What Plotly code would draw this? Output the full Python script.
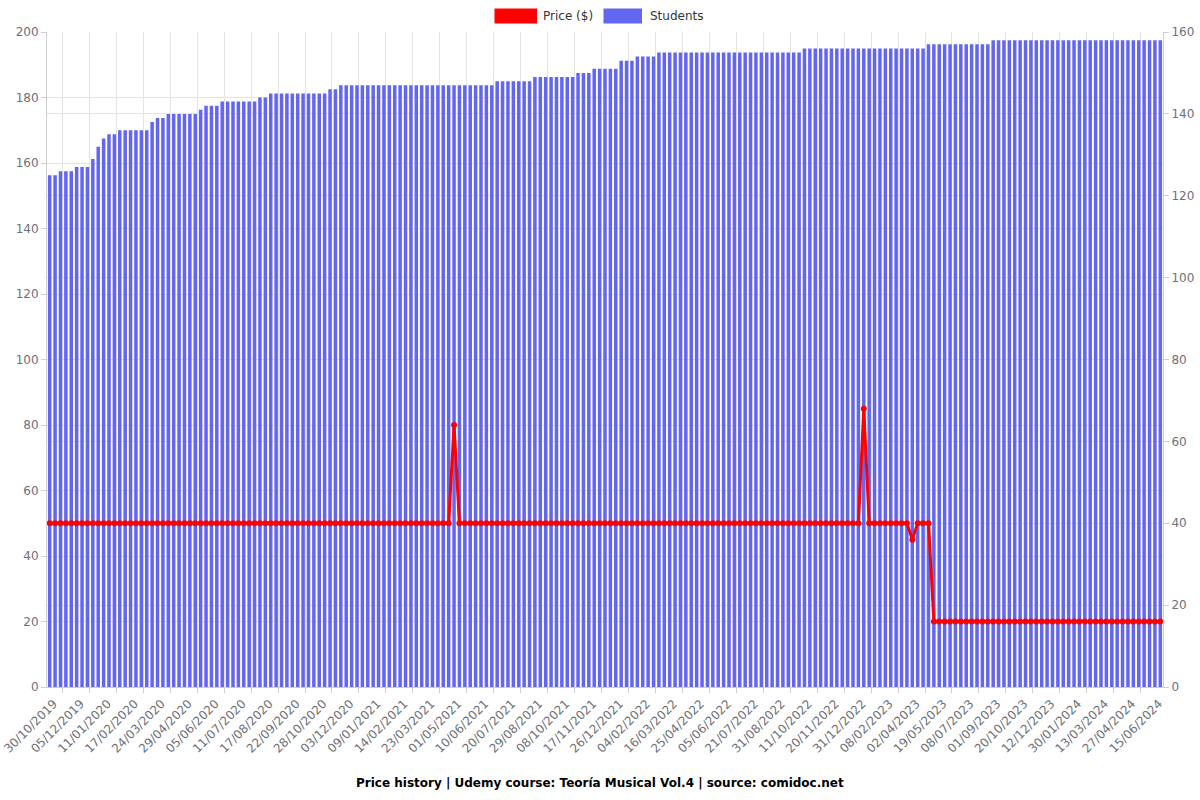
import plotly.graph_objects as go

# ---------------- data ----------------
TICK_LABELS = [
    "30/10/2019", "05/12/2019", "11/01/2020", "17/02/2020", "24/03/2020", "29/04/2020",
    "05/06/2020", "11/07/2020", "17/08/2020", "22/09/2020", "28/10/2020", "03/12/2020",
    "09/01/2021", "14/02/2021", "23/03/2021", "01/05/2021", "10/06/2021", "20/07/2021",
    "29/08/2021", "08/10/2021", "17/11/2021", "26/12/2021", "04/02/2022", "16/03/2022",
    "25/04/2022", "05/06/2022", "21/07/2022", "31/08/2022", "11/10/2022", "20/11/2022",
    "31/12/2022", "08/02/2023", "02/04/2023", "19/05/2023", "08/07/2023", "01/09/2023",
    "20/10/2023", "12/12/2023", "30/01/2024", "13/03/2024", "27/04/2024", "15/06/2024",
]
LABEL_STEP = 5  # one date label every 5 observations

# students: (value, number of consecutive observations)
STUDENT_LEVELS = [125, 126, 127, 129, 132, 134, 135, 136, 138, 139, 140, 141, 142, 143,
                  144, 145, 146, 147, 148, 149, 150, 151, 153, 154, 155, 156, 157, 158]
STUDENT_RUNS = [2, 3, 3, 1, 1, 1, 2, 6, 1, 2, 6, 1, 3, 7,
                2, 11, 2, 29, 7, 8, 3, 5, 3, 4, 27, 23, 12, 32]

# price ($): (value, number of consecutive observations)
PRICE_LEVELS = [50, 80, 50, 85, 50, 45, 50, 20]
PRICE_RUNS = [75, 1, 75, 1, 8, 1, 3, 43]

students = [v for v, n in zip(STUDENT_LEVELS, STUDENT_RUNS) for _ in range(n)]
prices = [v for v, n in zip(PRICE_LEVELS, PRICE_RUNS) for _ in range(n)]
N = len(students)
idx = list(range(N))
label_pos = [i * LABEL_STEP for i in range(len(TICK_LABELS))]

# ---------------- layout helpers ----------------
W, H = 1200, 800
ML, MR, MT, MB = 47, 37, 32, 113
PW, PH = W - ML - MR, H - MT - MB


def pxx(px):
    return (px - ML) / PW


def pxy(py):
    return (H - MB - py) / PH


FONT = "DejaVu Sans"
GRAY = "#6e7079"
GRID = "#e4e4e4"
AXL = "#cfcfcf"
BLUE = "#6366f1"
RED = "#ff0000"

grid_pos = [2.36 + LABEL_STEP * j for j in range(41)]

fig = go.Figure()
fig.add_trace(go.Bar(x=idx, y=students, name="Students", marker=dict(color=BLUE, line=dict(width=0)),
                     yaxis="y", showlegend=False))
fig.add_trace(go.Scatter(x=idx, y=prices, name="Price ($)", mode="lines+markers",
                         line=dict(color=RED, width=3), marker=dict(color=RED, size=6),
                         yaxis="y2", showlegend=False))

fig.update_layout(
    width=W, height=H,
    margin=dict(l=ML, r=MR, t=MT, b=MB, autoexpand=False),
    paper_bgcolor="white", plot_bgcolor="white",
    font=dict(family=FONT, size=12, color=GRAY),
    bargap=0.35,
    xaxis=dict(
        range=[-0.5, N - 0.5], tickmode="array", tickvals=label_pos, ticktext=TICK_LABELS,
        tickangle=-45, ticks="", showgrid=False, showline=True, linecolor=AXL, linewidth=1,
        zeroline=False, tickfont=dict(size=12, color=GRAY), automargin=False,
        ticklabeloverflow="allow", ticklabelshift=4, ticklabelstandoff=4,
        minor=dict(tickmode="array", tickvals=grid_pos, showgrid=True, gridcolor=GRID,
                   ticks="outside", ticklen=5, tickcolor=AXL),
    ),
    yaxis=dict(
        range=[0, 160], tickmode="linear", dtick=20, side="right", showgrid=True,
        gridcolor=GRID, zeroline=False, ticks="outside", ticklen=5, tickcolor=AXL,
        showline=True, linecolor=AXL, tickfont=dict(size=12, color=GRAY), automargin=False,
        ticklabeloverflow="allow",
    ),
    yaxis2=dict(
        range=[0, 200], tickmode="linear", dtick=20, side="left", overlaying="y",
        showgrid=True, gridcolor=GRID, zeroline=False, ticks="outside", ticklen=5,
        tickcolor=AXL, showline=True, linecolor=AXL, tickfont=dict(size=12, color=GRAY),
        automargin=False, ticklabeloverflow="allow",
    ),
)

# manual legend (rectangles + text) in paper coordinates
shapes = [
    dict(type="rect", xref="paper", yref="paper", x0=pxx(494.5), x1=pxx(537), y0=pxy(23.5), y1=pxy(8.5),
         fillcolor=RED, line=dict(width=0)),
    dict(type="rect", xref="paper", yref="paper", x0=pxx(603.5), x1=pxx(642), y0=pxy(23.5), y1=pxy(8.5),
         fillcolor=BLUE, line=dict(width=0)),
]
annotations = [
    dict(text="Price ($)", x=pxx(541), y=pxy(16), xref="paper", yref="paper", xanchor="left",
         yanchor="middle", showarrow=False, font=dict(size=12, color="#333333", family=FONT)),
    dict(text="Students", x=pxx(648), y=pxy(16), xref="paper", yref="paper", xanchor="left",
         yanchor="middle", showarrow=False, font=dict(size=12, color="#333333", family=FONT)),
    dict(text="<b>Price history | Udemy course: Teoría Musical Vol.4 | source: comidoc.net</b>",
         x=pxx(600), y=pxy(783), xref="paper", yref="paper", xanchor="center", yanchor="middle",
         showarrow=False, font=dict(size=12, color="#000000", family=FONT)),
]
fig.update_layout(shapes=shapes, annotations=annotations)

fig.write_html("out.html")
